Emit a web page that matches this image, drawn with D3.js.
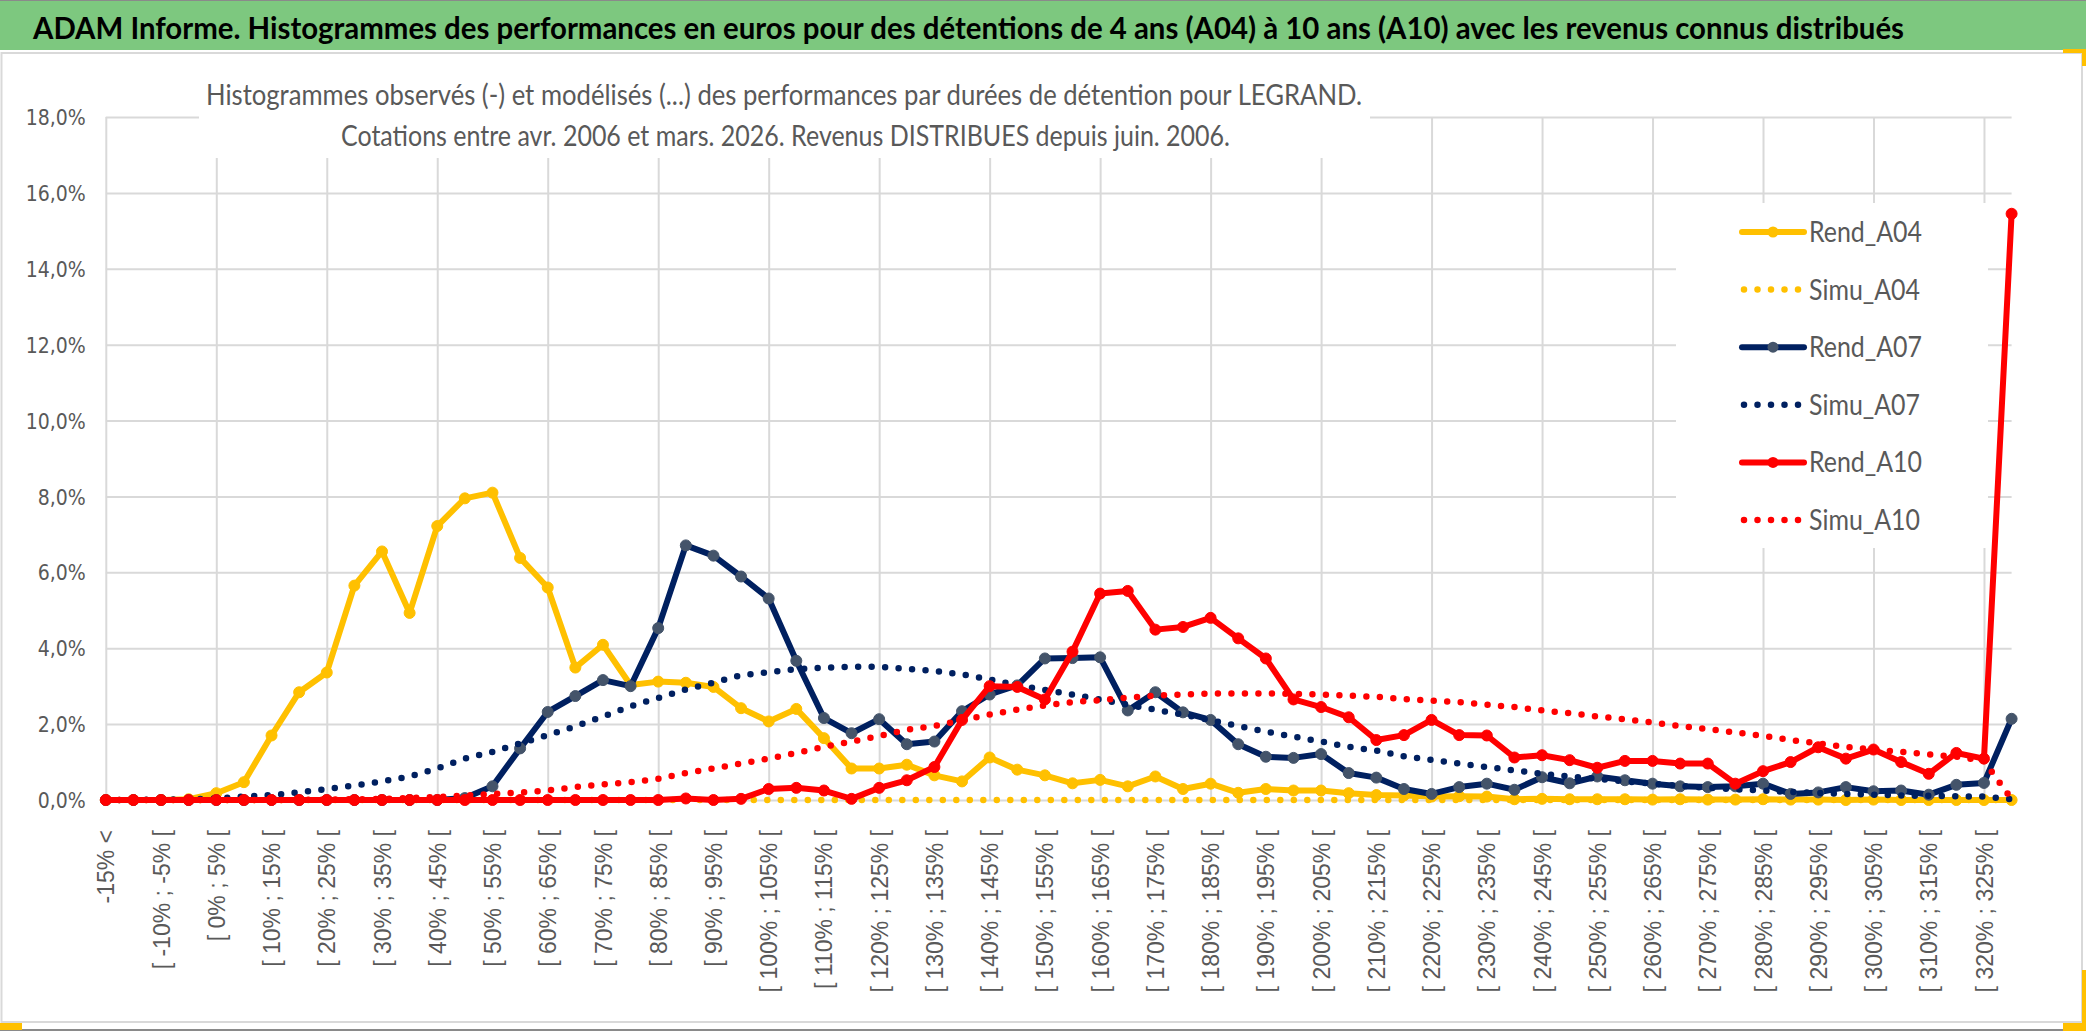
<!DOCTYPE html>
<html>
<head>
<meta charset="utf-8">
<script src="https://cdn.jsdelivr.net/npm/d3@7/dist/d3.min.js"></script>
<style>
  body { margin: 0; background: #fff; }
  svg { display: block; }
</style>
</head>
<body>
<div id="chart"></div>
<script>
// Categories (bins of performance), one label every 2 bins is shown on the axis
const categories = [
  '-15% <', '[ -15% ; -10% [', '[ -10% ; -5% [', '[ -5% ; 0% [', '[ 0% ; 5% [', '[ 5% ; 10% [',
  '[ 10% ; 15% [', '[ 15% ; 20% [', '[ 20% ; 25% [', '[ 25% ; 30% [', '[ 30% ; 35% [', '[ 35% ; 40% [',
  '[ 40% ; 45% [', '[ 45% ; 50% [', '[ 50% ; 55% [', '[ 55% ; 60% [', '[ 60% ; 65% [', '[ 65% ; 70% [',
  '[ 70% ; 75% [', '[ 75% ; 80% [', '[ 80% ; 85% [', '[ 85% ; 90% [', '[ 90% ; 95% [', '[ 95% ; 100% [',
  '[ 100% ; 105% [', '[ 105% ; 110% [', '[ 110% ; 115% [', '[ 115% ; 120% [', '[ 120% ; 125% [', '[ 125% ; 130% [',
  '[ 130% ; 135% [', '[ 135% ; 140% [', '[ 140% ; 145% [', '[ 145% ; 150% [', '[ 150% ; 155% [', '[ 155% ; 160% [',
  '[ 160% ; 165% [', '[ 165% ; 170% [', '[ 170% ; 175% [', '[ 175% ; 180% [', '[ 180% ; 185% [', '[ 185% ; 190% [',
  '[ 190% ; 195% [', '[ 195% ; 200% [', '[ 200% ; 205% [', '[ 205% ; 210% [', '[ 210% ; 215% [', '[ 215% ; 220% [',
  '[ 220% ; 225% [', '[ 225% ; 230% [', '[ 230% ; 235% [', '[ 235% ; 240% [', '[ 240% ; 245% [', '[ 245% ; 250% [',
  '[ 250% ; 255% [', '[ 255% ; 260% [', '[ 260% ; 265% [', '[ 265% ; 270% [', '[ 270% ; 275% [', '[ 275% ; 280% [',
  '[ 280% ; 285% [', '[ 285% ; 290% [', '[ 290% ; 295% [', '[ 295% ; 300% [', '[ 300% ; 305% [', '[ 305% ; 310% [',
  '[ 310% ; 315% [', '[ 315% ; 320% [', '[ 320% ; 325% [', '> 325%'
];

// Values in %
const rendA04 = [
  0, 0, 0, 0.02, 0.18, 0.47, 1.70, 2.84, 3.36, 5.65,
  6.55, 4.93, 7.22, 7.95, 8.10, 6.38, 5.60, 3.49, 4.09, 3.03,
  3.12, 3.09, 2.98, 2.42, 2.07, 2.40, 1.63, 0.83, 0.83, 0.93,
  0.65, 0.49, 1.12, 0.80, 0.65, 0.44, 0.53, 0.36, 0.62, 0.29,
  0.43, 0.19, 0.29, 0.25, 0.25, 0.18, 0.13, 0.12, 0.09, 0.10,
  0.09, 0.02, 0.03, 0.02, 0.02, 0.02, 0.01, 0.02, 0.01, 0.01,
  0.02, 0.01, 0.01, 0, 0.01, 0, 0, 0, 0, 0
];
const simuA04 = [
  0, 0, 0, 0, 0, 0, 0, 0, 0, 0,
  0, 0, 0, 0, 0, 0, 0, 0, 0, 0,
  0, 0, 0, 0, 0, 0, 0, 0, 0, 0,
  0, 0, 0, 0, 0, 0, 0, 0, 0, 0,
  0, 0, 0, 0, 0, 0, 0, 0, 0, 0,
  0, 0, 0, 0, 0, 0, 0, 0, 0, 0,
  0, 0, 0, 0, 0, 0, 0, 0, 0, 0
];
const rendA07 = [
  0, 0, 0, 0, 0, 0, 0, 0, 0, 0,
  0, 0, 0, 0.05, 0.36, 1.36, 2.32, 2.74, 3.16, 3.00,
  4.53, 6.71, 6.44, 5.89, 5.31, 3.67, 2.16, 1.76, 2.13, 1.47,
  1.54, 2.34, 2.78, 3.02, 3.73, 3.74, 3.76, 2.36, 2.84, 2.31,
  2.11, 1.47, 1.14, 1.11, 1.21, 0.71, 0.59, 0.29, 0.16, 0.34,
  0.43, 0.27, 0.60, 0.44, 0.62, 0.52, 0.43, 0.36, 0.34, 0.36,
  0.43, 0.16, 0.20, 0.34, 0.23, 0.25, 0.14, 0.40, 0.45, 2.14
];
const simuA07 = [
  0, 0, 0.01, 0.02, 0.04, 0.09, 0.13, 0.20, 0.29, 0.38,
  0.49, 0.62, 0.83, 1.09, 1.27, 1.49, 1.71, 1.94, 2.20, 2.47,
  2.69, 2.91, 3.09, 3.29, 3.37, 3.45, 3.49, 3.51, 3.51, 3.46,
  3.40, 3.31, 3.18, 3.02, 2.90, 2.78, 2.65, 2.51, 2.38, 2.25,
  2.10, 1.95, 1.80, 1.67, 1.54, 1.40, 1.30, 1.15, 1.06, 0.96,
  0.87, 0.78, 0.69, 0.62, 0.56, 0.49, 0.43, 0.37, 0.32, 0.28,
  0.25, 0.21, 0.19, 0.16, 0.14, 0.12, 0.11, 0.10, 0.09, 0.02
];
const rendA10 = [
  0, 0, 0, 0, 0, 0, 0, 0, 0, 0,
  0, 0, 0, 0, 0, 0, 0, 0, 0, 0,
  0, 0.04, 0, 0.03, 0.29, 0.32, 0.25, 0.03, 0.32, 0.52,
  0.87, 2.11, 3.00, 2.98, 2.65, 3.91, 5.44, 5.51, 4.49, 4.56,
  4.80, 4.26, 3.73, 2.65, 2.45, 2.18, 1.58, 1.71, 2.11, 1.71,
  1.70, 1.12, 1.18, 1.05, 0.85, 1.03, 1.03, 0.96, 0.96, 0.43,
  0.76, 1.00, 1.39, 1.09, 1.33, 1.00, 0.69, 1.24, 1.09, 15.45
];
const simuA10 = [
  0, 0, 0, 0, 0, 0, 0, 0, 0.01, 0.02,
  0.03, 0.05, 0.08, 0.12, 0.16, 0.20, 0.25, 0.34, 0.41, 0.47,
  0.56, 0.71, 0.83, 0.96, 1.09, 1.24, 1.40, 1.54, 1.69, 1.85,
  1.95, 2.10, 2.25, 2.38, 2.49, 2.58, 2.63, 2.70, 2.75, 2.78,
  2.81, 2.81, 2.81, 2.80, 2.78, 2.75, 2.72, 2.66, 2.62, 2.58,
  2.51, 2.45, 2.36, 2.29, 2.20, 2.13, 2.04, 1.95, 1.87, 1.78,
  1.69, 1.58, 1.49, 1.40, 1.33, 1.27, 1.20, 1.14, 1.03, 0.02
];

const yTicks = [0, 2, 4, 6, 8, 10, 12, 14, 16, 18];

const seriesNames = ['Rend_A04', 'Simu_A04', 'Rend_A07', 'Simu_A07', 'Rend_A10', 'Simu_A10'];

const mainTitle = 'ADAM Informe. Histogrammes des performances en euros pour des détentions de 4 ans (A04) à 10 ans (A10) avec les revenus connus distribués';
const subTitle1 = 'Histogrammes observés (-) et modélisés (...) des performances  par durées de détention pour LEGRAND.';
const subTitle2 = 'Cotations entre avr. 2006 et mars. 2026. Revenus DISTRIBUES depuis juin. 2006.';

const series = [
  { name: seriesNames[0], values: rendA04, color: '#FFC000', marker: '#FFC000', dotted: false },
  { name: seriesNames[1], values: simuA04, color: '#FFC000', dotted: true },
  { name: seriesNames[2], values: rendA07, color: '#002060', marker: '#44546A', dotted: false },
  { name: seriesNames[3], values: simuA07, color: '#002060', dotted: true },
  { name: seriesNames[4], values: rendA10, color: '#FF0000', marker: '#FF0000', dotted: false },
  { name: seriesNames[5], values: simuA10, color: '#FF0000', dotted: true }
];

const W = 2086, H = 1031;
const calibriLike = 'Lato, "Open Sans", "DejaVu Sans Condensed", sans-serif';
const narrow = '"Liberation Sans Narrow", "DejaVu Sans Condensed", "Roboto", sans-serif';
const textGray = '#595959';
const gridGray = '#d9d9d9';

// plot area
const x0 = 105.8, x1 = 2011.6;
const yTop = 117, yBottom = 800;

const x = d3.scalePoint().domain(categories).range([x0, x1]).padding(0);
const y = d3.scaleLinear().domain([0, 18]).range([yBottom, yTop]);

const fr = d3.formatLocale({ decimal: ',', thousands: '\u00a0', grouping: [3], currency: ['', ' €'] });
const fmt = v => fr.format('.1f')(v) + '%';

const svg = d3.select('#chart').append('svg')
  .attr('width', W)
  .attr('height', H)
  .style('background', '#fff');

// Header band
svg.append('rect').attr('x', 0).attr('y', 0).attr('width', W).attr('height', 50).attr('fill', '#7dc87f');
svg.append('line').attr('x1', 0).attr('x2', W).attr('y1', 0.5).attr('y2', 0.5).attr('stroke', '#8a8a8a');
svg.append('text')
  .attr('x', 33).attr('y', 39)
  .attr('textLength', 1871).attr('lengthAdjust', 'spacingAndGlyphs')
  .style('font-family', calibriLike).style('font-weight', 'bold').style('font-size', '30px')
  .style('fill', '#000')
  .text(mainTitle);

// Chart area border
svg.append('rect')
  .attr('x', 1.5).attr('y', 53).attr('width', 2080.5).attr('height', 969)
  .attr('fill', 'none').attr('stroke', gridGray).attr('stroke-width', 2);
svg.append('line').attr('x1', 0).attr('x2', W).attr('y1', 1030).attr('y2', 1030).attr('stroke', '#8a8a8a').attr('stroke-width', 2);

// Horizontal gridlines + y labels
const yAxis = d3.axisLeft(y)
  .tickValues(yTicks)
  .tickSizeInner(-(x1 - x0))
  .tickSizeOuter(0)
  .tickPadding(20)
  .tickFormat(fmt);

const $yAxis = svg.append('g')
  .attr('transform', `translate(${x0}, 0)`)
  .call(yAxis);
$yAxis.select('.domain').remove();
$yAxis.selectAll('line').attr('stroke', gridGray).attr('stroke-width', 2);
$yAxis.selectAll('text')
  .style('font-family', narrow).style('font-size', '21px').style('fill', textGray)
  .attr('dy', '0.36em');

// Vertical gridlines every 4 categories
const gridCats = categories.filter((d, i) => i % 4 === 0);
const xGrid = d3.axisBottom(x)
  .tickValues(gridCats)
  .tickSizeInner(-(yBottom - yTop))
  .tickSizeOuter(0)
  .tickFormat('');
const $xGrid = svg.append('g')
  .attr('transform', `translate(0, ${yBottom})`)
  .call(xGrid);
$xGrid.select('.domain').remove();
$xGrid.selectAll('line').attr('stroke', gridGray).attr('stroke-width', 2);

// X labels, one every 2 categories, rotated
const labelCats = categories.filter((d, i) => i % 2 === 0);
const xAxis = d3.axisBottom(x)
  .tickValues(labelCats)
  .tickSize(0)
  .tickPadding(0);
const $xAxis = svg.append('g')
  .attr('transform', `translate(0, ${yBottom})`)
  .call(xAxis);
$xAxis.select('.domain').remove();
$xAxis.selectAll('text')
  .attr('transform', 'translate(0, 30) rotate(-90)')
  .attr('x', 0).attr('y', 0)
  .attr('dy', '0.35em')
  .style('text-anchor', 'end')
  .style('font-family', '"Liberation Sans", Arial, sans-serif')
  .style('font-size', '23px')
  .style('fill', textGray);

// White box behind the subtitle
svg.append('rect').attr('x', 199).attr('y', 62).attr('width', 1171).attr('height', 96).attr('fill', '#fff');
svg.append('text')
  .attr('x', 206).attr('y', 105)
  .attr('textLength', 1156).attr('lengthAdjust', 'spacingAndGlyphs')
  .style('font-family', calibriLike).style('font-size', '28px').style('fill', textGray)
  .text(subTitle1);
svg.append('text')
  .attr('x', 341).attr('y', 146)
  .attr('textLength', 889).attr('lengthAdjust', 'spacingAndGlyphs')
  .style('font-family', calibriLike).style('font-size', '28px').style('fill', textGray)
  .text(subTitle2);

// Series
const line = d3.line()
  .x((d, i) => x(categories[i]))
  .y(d => y(d));

const plot = svg.append('g');

series.forEach(s => {
  plot.append('path')
    .datum(s.values)
    .attr('d', line)
    .attr('fill', 'none')
    .attr('stroke', s.color)
    .attr('stroke-width', s.dotted ? 6.5 : 6)
    .attr('stroke-linejoin', 'round')
    .attr('stroke-linecap', 'round')
    .attr('stroke-dasharray', s.dotted ? '0 13.5' : null);

  if (!s.dotted) {
    plot.append('g').selectAll('circle')
      .data(s.values)
      .join('circle')
      .attr('cx', (d, i) => x(categories[i]))
      .attr('cy', d => y(d))
      .attr('r', 5.5)
      .attr('fill', s.marker)
      .attr('stroke', s.marker);
  }
});

// Legend
const legend = svg.append('g');
legend.append('rect')
  .attr('x', 1676).attr('y', 203).attr('width', 312).attr('height', 345)
  .attr('fill', '#fff');

series.forEach((s, i) => {
  const ly = 232 + i * 57.6;
  const g = legend.append('g');
  if (s.dotted) {
    g.append('line')
      .attr('x1', 1744).attr('x2', 1799).attr('y1', ly).attr('y2', ly)
      .attr('stroke', s.color).attr('stroke-width', 6.5)
      .attr('stroke-linecap', 'round').attr('stroke-dasharray', '0 13.5');
  } else {
    g.append('line')
      .attr('x1', 1742).attr('x2', 1804).attr('y1', ly).attr('y2', ly)
      .attr('stroke', s.color).attr('stroke-width', 6).attr('stroke-linecap', 'round');
    g.append('circle')
      .attr('cx', 1773).attr('cy', ly).attr('r', 5.5)
      .attr('fill', s.marker);
  }
  g.append('text')
    .attr('x', 1809).attr('y', ly).attr('dy', '0.36em')
    .attr('textLength', s.dotted ? 111 : 113).attr('lengthAdjust', 'spacingAndGlyphs')
    .style('font-family', calibriLike).style('font-size', '28px').style('fill', textGray)
    .text(s.name);
});

// Yellow selection handles on the chart frame
const handles = [
  [0, 1023, 22, 7], [2063, 49, 23, 4], [2082, 49, 4, 17],
  [2063, 1023, 23, 8], [2082, 970, 4, 61]
];
svg.append('g').selectAll('rect')
  .data(handles)
  .join('rect')
  .attr('x', d => d[0]).attr('y', d => d[1])
  .attr('width', d => d[2]).attr('height', d => d[3])
  .attr('fill', '#FFC000');
</script>
</body>
</html>
